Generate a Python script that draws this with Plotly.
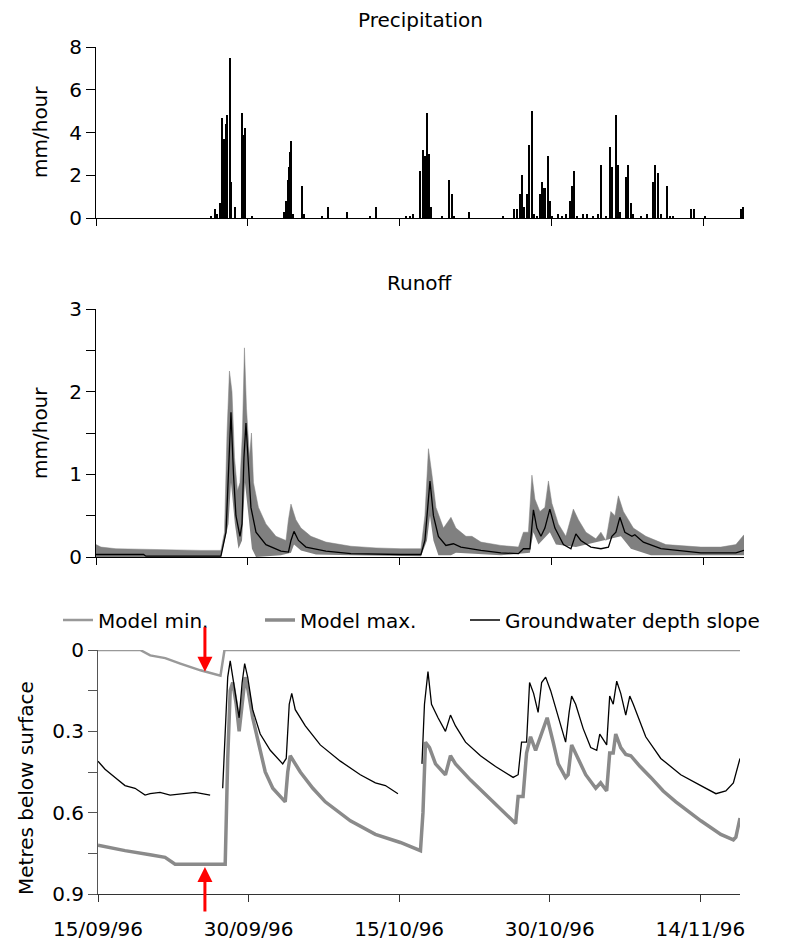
import numpy as np
import pandas as pd
import plotly.graph_objects as go

# ---- data (days after 15/09/96) ----
start = pd.Timestamp("1996-09-15")

precip_day = [11.35, 11.74, 11.94, 12.23, 12.43, 12.63, 12.83, 12.97, 13.22, 13.37, 13.67,
              14.36, 14.50, 14.70, 15.44, 18.60, 18.75, 18.90, 19.04, 19.14, 19.29, 19.44,
              20.37, 20.57, 22.35, 22.94, 24.81, 27.03, 27.63, 30.59, 30.98, 31.28, 31.97,
              32.31, 32.51, 32.66, 32.86, 33.05, 34.14, 34.88, 35.13, 35.32, 36.85, 40.21,
              41.29, 41.59, 41.84, 42.03, 42.23, 42.58, 42.77, 43.02, 43.22, 43.51, 43.81,
              44.00, 44.20, 44.35, 44.65, 44.84, 45.04, 45.63, 45.98, 46.42, 46.77, 46.97,
              47.21, 47.46, 48.10, 48.45, 49.09, 49.58, 49.83, 50.32, 50.72, 50.91, 51.31,
              51.50, 51.70, 52.29, 52.54, 52.79, 53.03, 53.77, 54.37, 55.01, 55.16, 55.50,
              55.75, 56.39, 56.64, 56.98, 58.71, 59.00, 60.09, 63.64, 63.84, 63.95]
precip_mm = [0.1, 0.4, 0.2, 0.7, 4.7, 3.7, 4.4, 4.8, 7.5, 1.7, 0.5,
             4.9, 3.9, 4.2, 0.1, 0.3, 0.8, 1.8, 2.4, 3.1, 3.6, 0.2,
             1.5, 0.2, 0.1, 0.5, 0.3, 0.1, 0.5, 0.1, 0.1, 0.2, 2.2,
             3.2, 2.9, 4.9, 3.0, 0.5, 0.1, 1.8, 1.1, 0.1, 0.3, 0.1,
             0.4, 0.4, 1.1, 2.0, 0.5, 1.1, 3.4, 5.0, 0.2, 0.1, 1.1,
             1.7, 1.4, 1.4, 2.9, 0.8, 0.1, 0.2, 0.1, 0.2, 0.8, 1.5,
             2.2, 0.1, 0.2, 0.2, 0.1, 0.2, 2.5, 0.1, 3.3, 2.4, 4.8,
             2.5, 0.3, 1.9, 2.5, 0.7, 0.2, 0.1, 0.2, 1.7, 2.5, 2.1,
             0.2, 1.5, 0.1, 0.1, 0.4, 0.4, 0.1, 0.4, 0.5, 0.3]

runoff_hi_day = [0.00, 0.49, 1.97, 5.43, 10.36, 12.33, 12.68, 12.93, 13.17, 13.42, 13.67,
                 13.96, 14.21, 14.45, 14.65, 14.85, 15.15, 15.34, 15.54, 16.03, 16.77, 17.76,
                 18.75, 18.99, 19.24, 19.73, 20.23, 21.21, 22.69, 25.16, 27.63, 30.09, 32.07,
                 32.46, 32.81, 33.15, 33.55, 34.29, 35.03, 35.52, 36.51, 37.10, 37.99, 39.96,
                 41.69, 42.18, 42.67, 43.02, 43.32, 43.81, 44.30, 44.65, 44.99, 45.63, 46.37,
                 47.11, 47.61, 48.35, 49.33, 49.83, 50.32, 50.81, 51.21, 51.55, 52.05, 53.03,
                 54.27, 56.24, 59.69, 61.67, 63.15, 63.95]
runoff_hi = [0.15, 0.12, 0.10, 0.09, 0.08, 0.08, 0.30, 1.50, 2.25, 2.00, 1.20,
             0.80, 0.90, 1.50, 2.53, 1.80, 1.20, 1.50, 0.90, 0.60, 0.40, 0.25,
             0.20, 0.45, 0.64, 0.45, 0.35, 0.25, 0.18, 0.13, 0.11, 0.10, 0.10,
             0.50, 1.31, 1.00, 0.60, 0.35, 0.48, 0.35, 0.25, 0.25, 0.18, 0.14,
             0.12, 0.30, 0.30, 0.99, 0.70, 0.55, 0.60, 0.92, 0.65, 0.40, 0.25,
             0.58, 0.45, 0.30, 0.22, 0.30, 0.20, 0.55, 0.50, 0.74, 0.55, 0.35,
             0.25, 0.15, 0.12, 0.12, 0.15, 0.27]

runoff_lo_day = [0.00, 12.33, 13.07, 13.32, 13.71, 14.06, 14.41, 14.70, 15.05, 15.39, 15.79,
                 18.25, 19.24, 19.54, 20.23, 21.71, 25.16, 32.07, 32.66, 32.96, 33.30, 33.79,
                 35.03, 35.52, 39.96, 42.82, 43.17, 43.66, 44.79, 45.39, 47.36, 51.80, 52.79,
                 54.76, 63.95]
runoff_lo = [0.0, 0.0, 0.4, 0.9, 0.4, 0.1, 0.2, 0.9, 0.5, 0.1, 0.0,
             0.02, 0.05, 0.15, 0.08, 0.03, 0.02, 0.01, 0.2, 0.5, 0.2, 0.02,
             0.02, 0.05, 0.02, 0.05, 0.3, 0.15, 0.3, 0.15, 0.12, 0.25, 0.1,
             0.02, 0.02]

runoff_obs_day = [0.00, 4.69, 4.93, 12.33, 12.83, 13.07, 13.32, 13.57, 13.81, 14.21, 14.41,
                  14.60, 14.80, 15.05, 15.29, 15.79, 16.77, 18.25, 18.99, 19.24, 19.54, 19.98,
                  20.72, 22.69, 25.16, 30.09, 32.07, 32.46, 32.71, 32.96, 33.30, 33.79, 34.53,
                  35.27, 36.01, 37.99, 39.96, 41.69, 42.18, 42.82, 43.17, 43.51, 43.91, 44.30,
                  44.79, 45.29, 46.13, 46.87, 47.36, 47.85, 48.84, 49.83, 50.57, 50.91, 51.31,
                  51.70, 52.19, 52.89, 53.18, 54.02, 55.75, 59.69, 63.15, 63.95]
runoff_obs = [0.03, 0.03, 0.01, 0.01, 0.30, 1.00, 1.75, 1.00, 0.50, 0.25, 0.40,
              1.20, 1.62, 1.10, 0.60, 0.30, 0.15, 0.07, 0.06, 0.20, 0.31, 0.20,
              0.12, 0.07, 0.04, 0.03, 0.03, 0.20, 0.60, 0.92, 0.50, 0.25, 0.14,
              0.16, 0.12, 0.08, 0.05, 0.04, 0.10, 0.10, 0.57, 0.35, 0.25, 0.35,
              0.58, 0.35, 0.15, 0.10, 0.28, 0.20, 0.12, 0.10, 0.12, 0.25, 0.30,
              0.48, 0.30, 0.25, 0.27, 0.18, 0.10, 0.05, 0.05, 0.08]

gw_min_day = [0.0, 4.2, 5.2, 6.7, 8.2, 10.2, 12.2, 12.5, 12.6, 63.95]
gw_min = [0.0, 0.0, 0.02, 0.03, 0.05, 0.075, 0.095, 0.01, 0.0, 0.0]

gw_max_day = [0.00, 2.69, 5.19, 6.68, 7.68, 12.17, 12.67, 12.92, 13.17, 13.42, 13.77,
              14.06, 14.36, 14.66, 14.96, 15.41, 16.16, 16.66, 17.41, 18.65, 18.90, 19.15,
              20.15, 21.40, 22.64, 25.14, 27.63, 30.12, 32.12, 32.37, 32.62, 33.02, 33.62,
              34.61, 35.11, 35.61, 37.11, 39.10, 41.60, 41.85, 42.34, 42.69, 43.09, 43.59,
              44.09, 44.74, 45.34, 45.84, 46.58, 46.83, 47.18, 47.83, 48.58, 49.58, 50.07,
              50.67, 50.97, 51.32, 51.57, 52.07, 52.57, 53.07, 54.00, 55.06, 56.30, 57.56,
              60.05, 62.04, 63.29, 63.54, 63.95]
gw_max = [0.72, 0.74, 0.755, 0.765, 0.79, 0.79, 0.79, 0.40, 0.15, 0.12, 0.20,
          0.30, 0.20, 0.10, 0.15, 0.25, 0.37, 0.45, 0.51, 0.56, 0.45, 0.39,
          0.45, 0.51, 0.56, 0.63, 0.68, 0.71, 0.74, 0.60, 0.34, 0.36, 0.42,
          0.46, 0.39, 0.42, 0.48, 0.55, 0.64, 0.54, 0.54, 0.38, 0.32, 0.37,
          0.32, 0.25, 0.34, 0.42, 0.47, 0.46, 0.35, 0.40, 0.46, 0.51, 0.49,
          0.52, 0.38, 0.38, 0.31, 0.36, 0.385, 0.39, 0.43, 0.47, 0.52, 0.56,
          0.63, 0.68, 0.70, 0.69, 0.62]

gw_obs_day = [0.00, 0.70, 1.70, 2.69, 3.69, 4.69, 5.19, 6.18, 7.18, 8.68, 9.68, 11.17, 11.8,
              12.42, 12.67, 12.92, 13.17, 13.42, 13.77, 14.06, 14.36, 14.61, 14.91, 15.41,
              16.16, 17.16, 18.40, 18.75, 19.05, 19.30, 19.65, 20.65, 22.14, 24.14, 26.13,
              27.63, 28.63, 29.88, 31.0,
              32.27, 32.52, 32.87, 33.22, 33.87, 34.61, 35.11, 35.61, 36.61, 38.10, 39.60,
              41.35, 41.85, 42.19, 42.69, 42.99, 43.39, 43.84, 44.19, 44.59, 45.09, 45.84,
              46.58, 46.93, 47.18, 47.58, 48.33, 49.08, 49.68, 49.98, 50.32, 50.67, 50.97,
              51.32, 51.67, 52.07, 52.57, 52.97, 53.32, 54.56, 56.06, 58.05, 60.05, 61.55,
              62.54, 63.29, 63.95]
gw_obs = [0.41, 0.44, 0.47, 0.50, 0.51, 0.535, 0.53, 0.525, 0.535, 0.53, 0.525, 0.535, None,
          0.51, 0.30, 0.10, 0.04, 0.10, 0.17, 0.25, 0.12, 0.05, 0.10, 0.22,
          0.31, 0.37, 0.42, 0.40, 0.20, 0.16, 0.22, 0.28, 0.35, 0.41, 0.46,
          0.49, 0.50, 0.53, None,
          0.42, 0.20, 0.08, 0.20, 0.25, 0.30, 0.24, 0.28, 0.34, 0.39, 0.43,
          0.47, 0.46, 0.34, 0.34, 0.12, 0.16, 0.23, 0.12, 0.10, 0.15, 0.25,
          0.34, 0.23, 0.17, 0.20, 0.29, 0.36, 0.37, 0.31, 0.33, 0.35, 0.17,
          0.20, 0.115, 0.16, 0.24, 0.17, 0.20, 0.32, 0.40, 0.46, 0.50, 0.53,
          0.52, 0.49, 0.40]

arrow_day = 10.65
arrow_depths = [0.08, 0.80]

tick_dates = ["1996-09-15", "1996-09-30", "1996-10-15", "1996-10-30", "1996-11-14"]
tick_labels = ["15/09/96", "30/09/96", "15/10/96", "30/10/96", "14/11/96"]


def to_dates(days):
    return start + pd.to_timedelta(np.array(days, dtype=float), unit="D")


FONT = "DejaVu Sans"
FS = 20
GREY = "#8a8a8a"
x_end = start + pd.Timedelta(days=63.95)

fig = go.Figure()

# precipitation
fig.add_trace(go.Bar(x=to_dates(precip_day), y=precip_mm, width=0.2 * 86400000,
                     marker=dict(color="black", line=dict(width=0)),
                     xaxis="x", yaxis="y", showlegend=False))

# runoff band + observed
fig.add_trace(go.Scatter(x=to_dates(runoff_lo_day), y=runoff_lo, mode="lines",
                         line=dict(width=0, color="#808080"), xaxis="x2", yaxis="y2",
                         showlegend=False))
fig.add_trace(go.Scatter(x=to_dates(runoff_hi_day), y=runoff_hi, mode="lines",
                         line=dict(width=0.5, color="#808080"), fill="tonexty",
                         fillcolor="#808080", xaxis="x2", yaxis="y2", showlegend=False))
fig.add_trace(go.Scatter(x=to_dates(runoff_obs_day), y=runoff_obs, mode="lines",
                         line=dict(width=1.3, color="black"), xaxis="x2", yaxis="y2",
                         showlegend=False))

# groundwater
fig.add_trace(go.Scatter(x=to_dates(gw_min_day), y=gw_min, mode="lines", name="Model min.",
                         line=dict(width=2.5, color="#999999"), xaxis="x3", yaxis="y3",
                         legend="legend"))
fig.add_trace(go.Scatter(x=to_dates(gw_max_day), y=gw_max, mode="lines", name="Model max.",
                         line=dict(width=3.5, color=GREY), xaxis="x3", yaxis="y3",
                         legend="legend2"))
fig.add_trace(go.Scatter(x=to_dates(gw_obs_day), y=gw_obs, mode="lines",
                         name="Groundwater depth slope",
                         line=dict(width=1.3, color="black"), xaxis="x3", yaxis="y3",
                         legend="legend3"))

# the page adds an 8 px body margin, so the figure is drawn 8 px in from the corner
OFF = 8
W, H = 785 - OFF, 944 - OFF


def px_x(p):
    return (p - OFF) / W


def px_y(p):
    return 1 - (p - OFF) / H


xcommon = dict(type="date", range=[start, x_end], tickvals=tick_dates, ticktext=tick_labels,
               showline=True, linecolor="black", linewidth=1, ticks="outside", ticklen=7,
               tickcolor="black", showgrid=False, zeroline=False, automargin=False,
               tickfont=dict(family=FONT, size=FS, color="black"))
ycommon = dict(showline=True, linecolor="black", linewidth=1, ticks="outside", ticklen=9,
               tickcolor="black", showgrid=False, zeroline=False, automargin=False,
               tickfont=dict(family=FONT, size=FS, color="black"))

legcommon = dict(orientation="h", y=px_y(620), yanchor="middle", xanchor="left",
                 font=dict(family=FONT, size=FS, color="black"),
                 bgcolor="rgba(0,0,0,0)", itemwidth=30)

fig.update_layout(
    template="none",
    width=W, height=H,
    margin=dict(l=0, r=0, t=0, b=0, autoexpand=False),
    paper_bgcolor="white", plot_bgcolor="white",
    font=dict(family=FONT, size=FS, color="black"),
    bargap=0,
    xaxis=dict(xcommon, domain=[px_x(96), px_x(744)], anchor="y", showticklabels=False),
    yaxis=dict(ycommon, domain=[px_y(218), px_y(47)], anchor="x", range=[0, 8],
               tickvals=[0, 2, 4, 6, 8]),
    xaxis2=dict(xcommon, domain=[px_x(96), px_x(744)], anchor="y2", showticklabels=False),
    yaxis2=dict(ycommon, domain=[px_y(557), px_y(309)], anchor="x2", range=[0, 3],
                tickvals=[0, 0.5, 1, 1.5, 2, 2.5, 3],
                ticktext=["0", "", "1", "", "2", "", "3"]),
    xaxis3=dict(xcommon, domain=[px_x(98), px_x(740)], anchor="y3", linecolor="#333333",
                tickcolor="#333333", ticklabelstandoff=10),
    yaxis3=dict(ycommon, domain=[px_y(894), px_y(650)], anchor="x3", range=[0.9, 0],
                tickvals=[0, 0.15, 0.3, 0.45, 0.6, 0.75, 0.9],
                ticktext=["0", "", "0.3", "", "0.6", "", "0.9"],
                linecolor="#555555", tickcolor="#555555"),
    legend=dict(legcommon, x=px_x(58)),
    legend2=dict(legcommon, x=px_x(260)),
    legend3=dict(legcommon, x=px_x(465)),
)

# panel titles and y titles
labels = [("Precipitation", 420, 20, 0), ("Runoff", 420, 283, 0),
          ("mm/hour", 40, 132, -90), ("mm/hour", 40, 433, -90),
          ("Metres below surface", 26, 788, -90)]
for txt, lx, ly, ang in labels:
    fig.add_annotation(text=txt, x=px_x(lx), y=px_y(ly), xref="paper", yref="paper",
                       xanchor="center", yanchor="middle", textangle=ang,
                       showarrow=False, font=dict(family=FONT, size=FS, color="black"))

# red arrows
arrow_x = start + pd.Timedelta(days=arrow_day)
fig.add_annotation(x=arrow_x, y=arrow_depths[0], xref="x3", yref="y3", text="",
                   showarrow=True, arrowhead=2, arrowsize=1, arrowwidth=3, arrowcolor="red",
                   ax=0, ay=-46)
fig.add_annotation(x=arrow_x, y=arrow_depths[1], xref="x3", yref="y3", text="",
                   showarrow=True, arrowhead=2, arrowsize=1, arrowwidth=3, arrowcolor="red",
                   ax=0, ay=46)

fig.write_html("out.html")
